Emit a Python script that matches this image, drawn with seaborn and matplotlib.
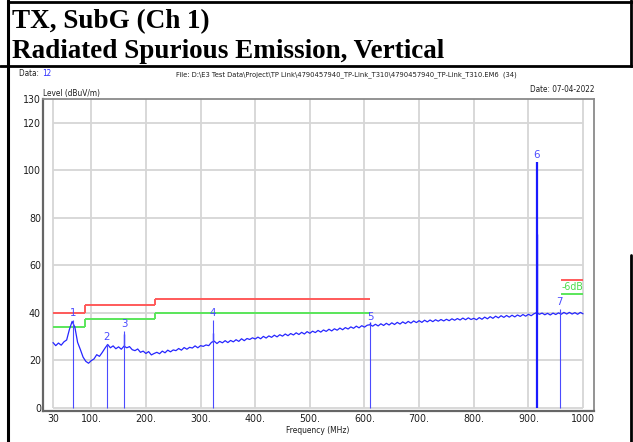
import numpy as np
import matplotlib
matplotlib.use("Agg")
import matplotlib.pyplot as plt
import matplotlib.font_manager as fm
import seaborn as sns
from matplotlib.lines import Line2D

# ---- data -------------------------------------------------------------
freq_step = 5
trace_freq = np.arange(30, 1001, freq_step)
trace_level = [
    27.5, 26.2, 27.3, 26.4, 27.8, 28.6, 33.0, 36.4, 34.0, 27.6,   # 30-75
    24.6, 21.4, 19.6, 18.8, 19.9, 20.6, 22.4, 21.7, 23.3, 25.1,   # 80-125
    26.7, 25.3, 26.1, 24.9, 25.7, 24.7, 26.0, 25.3, 25.8, 24.5,   # 130-175
    24.1, 24.8, 23.4, 23.9, 22.9, 23.7, 22.3, 22.9, 23.4, 22.8,   # 180-225
    23.9, 23.2, 24.3, 23.6, 24.4, 24.1, 25.0, 24.3, 25.4, 24.7,   # 230-275
    25.5, 25.2, 26.1, 25.3, 26.2, 25.9, 26.5, 26.2, 27.6, 28.1,   # 280-325
    27.1, 28.0, 27.4, 28.3, 27.5, 28.4, 27.8, 28.7, 28.0, 29.1,   # 330-375
    28.3, 29.2, 28.8, 29.5, 29.0, 29.8, 29.1, 30.1, 29.4, 30.3,   # 380-425
    29.7, 30.6, 29.9, 30.8, 30.2, 31.1, 30.4, 31.3, 30.7, 31.6,   # 430-475
    30.9, 31.8, 31.1, 32.1, 31.4, 32.3, 31.7, 32.6, 31.9, 32.8,   # 480-525
    32.2, 33.1, 32.4, 33.3, 32.7, 33.6, 32.9, 33.8, 33.2, 34.1,   # 530-575
    33.5, 34.4, 33.7, 34.6, 34.0, 34.8, 35.0, 34.4, 35.2, 34.5,   # 580-625
    35.4, 34.7, 35.6, 34.9, 35.8, 35.1, 36.0, 35.3, 36.2, 35.5,   # 630-675
    36.4, 35.7, 36.6, 35.9, 36.7, 36.0, 36.9, 36.2, 37.0, 36.3,   # 680-725
    37.1, 36.5, 37.2, 36.6, 37.3, 36.7, 37.5, 36.9, 37.6, 37.0,   # 730-775
    37.8, 37.1, 37.9, 37.2, 37.7, 37.1, 38.0, 37.3, 38.2, 37.5,   # 780-825
    38.4, 37.7, 38.6, 37.9, 38.8, 38.1, 38.9, 38.2, 39.0, 38.3,   # 830-875
    39.1, 38.5, 39.3, 38.6, 39.4, 38.8, 39.6, 40.1, 39.4, 39.9,   # 880-925
    39.2, 39.8, 39.1, 39.9, 39.3, 40.0, 39.4, 40.2, 39.5, 40.2,   # 930-975
    39.5, 40.1, 39.4, 40.2, 39.6,                                 # 980-1000
]
spike_freq = [160, 322, 611, 915]
spike_top = [31.0, 31.5, 36.0, 73.0]

# limit (red) and limit-6dB (green) segments: start, stop, level
limit_start = [30, 88, 216, 960]
limit_stop = [88, 216, 610, 1000]
limit_level = [40.0, 43.5, 46.0, 54.0]
margin_level = [34.0, 37.5, 40.0, 48.0]

# peak markers
marker_id = ["1", "2", "3", "4", "5", "6", "7"]
marker_freq = [67, 128.5, 160, 322, 611, 915, 957]
marker_level = [37.0, 27.0, 32.5, 37.0, 35.5, 103.5, 41.5]

x_ticks = [30, 100, 200, 300, 400, 500, 600, 700, 800, 900, 1000]
x_tick_labels = ["30", "100.", "200.", "300.", "400.", "500.", "600.",
                 "700.", "800.", "900.", "1000"]
y_ticks = [0, 20, 40, 60, 80, 100, 120, 130]
y_grid = [0, 20, 40, 60, 80, 100, 120]

# ---- fonts ------------------------------------------------------------
sns.set_theme(style="white")


def find_narrow():
    best = None
    for f in fm.fontManager.ttflist:
        n = f.fname.lower()
        if ("narrow" in n or "condensed" in n) and not any(
                k in n for k in ("bold", "italic", "oblique", "light", "black", "thin")):
            score = 0 if "liberation" in n else 1
            if best is None or score < best[0]:
                best = (score, f.fname)
    return best[1] if best else None


narrow_path = find_narrow()
if narrow_path:
    small_fp = fm.FontProperties(fname=narrow_path)
    tick_size = 7.6
    slack = 1.05
else:
    small_fp = fm.FontProperties(family=["Liberation Sans", "DejaVu Sans"])
    tick_size = 7.0
    slack = 1.12
plt.rcParams["font.family"] = ["Liberation Sans", "DejaVu Sans"]

W, H = 633, 442
fig = plt.figure(figsize=(W / 100, H / 100), dpi=100)
fig.patch.set_facecolor("white")
TXT = "#1e1e1e"


def fx(px):
    return px / W


def fy(py):
    return 1 - py / H


def ftext(x, y, s, size, color=TXT, ha="left", width=None):
    fp = small_fp.copy()
    fp.set_size(size)
    t = fig.text(fx(x), fy(y), s, fontproperties=fp, color=color, ha=ha,
                 va="baseline")
    if width:
        fig.canvas.draw()
        w = t.get_window_extent().width
        fp.set_size(size * width * slack / w)
        t.set_fontproperties(fp)
    return t


ax = fig.add_axes([fx(43), fy(411), fx(594) - fx(43), fy(99) - fy(411)])
ax.set_xlim(11.7, 1020)
ax.set_ylim(-1.3, 130)

# grid inside the data range only
ax.hlines(y_grid, 30, 1000, color="#d6d6d6", lw=1.3, zorder=0)
ax.vlines(x_ticks, 0, 130, color="#d6d6d6", lw=1.3, zorder=0)

# limit lines
red, green = "#ff5a5a", "#5ae65a"
ax.hlines(limit_level, limit_start, limit_stop, color=red, lw=1.4, zorder=2)
ax.vlines(limit_start[1:3], limit_level[0:2], limit_level[1:3], color=red, lw=1.4, zorder=2)
ax.hlines(margin_level, limit_start, limit_stop, color=green, lw=1.4, zorder=2)
ax.vlines(limit_start[1:3], margin_level[0:2], margin_level[1:3], color=green, lw=1.4, zorder=2)
fp6 = small_fp.copy()
fp6.set_size(tick_size)
ax.text(980, 51.0, "-6dB", color="#4cdc4c", fontproperties=fp6, ha="center",
        va="center")

# measured trace
sns.lineplot(x=trace_freq, y=trace_level, ax=ax, color="#2626ff", lw=0.9,
             estimator=None, zorder=3)
base = np.interp(spike_freq, trace_freq, trace_level)
ax.vlines(spike_freq, base, spike_top, color="#2626ff", lw=1.0, zorder=3)

# peak markers
fpm = small_fp.copy()
fpm.set_size(tick_size + 0.6)
for mid, mf, ml in zip(marker_id, marker_freq, marker_level):
    lw = 1.6 if mid == "6" else 0.8
    col = "#1a1aff" if mid == "6" else "#4b4bff"
    ax.vlines(mf, 0, ml, color=col, lw=lw, zorder=4)
    ax.text(mf, ml + 0.8, mid, color="#4b4bff", fontproperties=fpm,
            ha="center", va="bottom", zorder=5)

ax.set_xticks(x_ticks)
ax.set_xticklabels(x_tick_labels)
ax.set_yticks(y_ticks)
ax.set_yticklabels([str(v) for v in y_ticks])
fpt = small_fp.copy()
fpt.set_size(tick_size)
for lab in ax.get_xticklabels() + ax.get_yticklabels():
    lab.set_fontproperties(fpt)
    lab.set_color(TXT)
ax.tick_params(axis="both", length=0)
ax.tick_params(axis="x", pad=2)
ax.tick_params(axis="y", pad=1.5)
ax.set_xlabel("")
ax.set_ylabel("")
for side, c, w in [("left", "#666666", 1.6), ("bottom", "#666666", 1.6),
                   ("top", "#8a8a8a", 1.3), ("right", "#8a8a8a", 1.3)]:
    ax.spines[side].set_color(c)
    ax.spines[side].set_linewidth(w)

# texts around the plot
ftext(318, 433, "Frequency (MHz)", tick_size, ha="center", width=60)
ftext(43, 96, "Level (dBuV/m)", tick_size, width=54)
date_t = ftext(594, 92, "Date: 07-04-2022", tick_size, ha="right", width=61)
head_size = date_t.get_fontproperties().get_size_in_points()
data_t = ftext(19, 76, "Data: ", head_size)
fig.canvas.draw()
data_end = data_t.get_window_extent().x1
ftext(data_end + 1, 76, "12", head_size, color="#2a2aff")
ftext(176, 76,
      "File: D:\\E3 Test Data\\Project\\TP Link\\4790457940_TP-Link_T310\\4790457940_TP-Link_T310.EM6  (34)",
      tick_size, width=320)

# report table header
serif = ["Liberation Serif", "DejaVu Serif"]
fig.text(fx(12), fy(28), "TX, SubG (Ch 1)", family=serif, fontsize=19.5,
         fontweight="bold", color="black", va="baseline")
fig.text(fx(12), fy(58), "Radiated Spurious Emission, Vertical", family=serif,
         fontsize=19.5, fontweight="bold", color="black", va="baseline")


def hline(y, x0, x1, lw=2.0):
    fig.add_artist(Line2D([fx(x0), fx(x1)], [fy(y), fy(y)], color="black", lw=lw))


def vline(x, y0, y1, lw=2.0):
    fig.add_artist(Line2D([fx(x), fx(x)], [fy(y0), fy(y1)], color="black", lw=lw))


hline(2, 8, 633)
hline(66, 0, 633)
vline(8, 0, 442, lw=2.2)
vline(631, 0, 66)
vline(631, 255, 442)

fig.savefig("out.png", dpi=100)
